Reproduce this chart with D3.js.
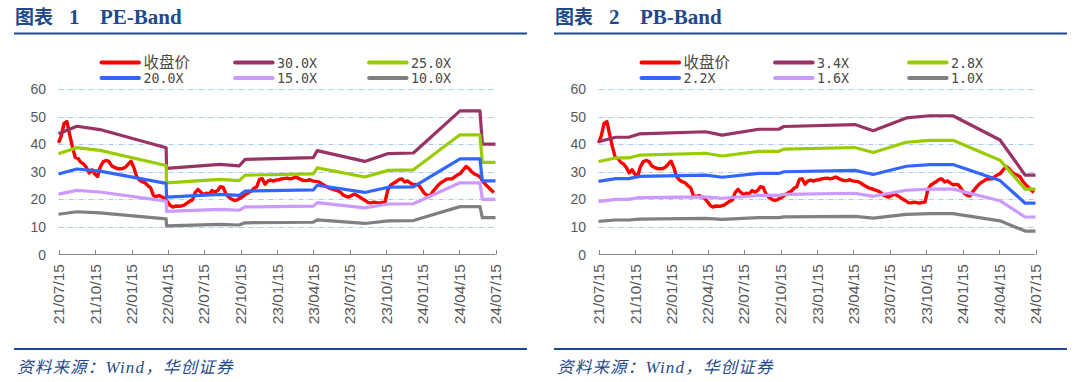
<!DOCTYPE html>
<html><head><meta charset="utf-8">
<script src="https://cdn.jsdelivr.net/npm/d3@7"></script>
<style>body{margin:0;background:#fff;} svg{display:block;}</style>
</head><body>
<svg id="chart" width="1080" height="382"></svg>
<script>
// ---------- data ----------
const xTickLabels = ["21/07/15","21/10/15","22/01/15","22/04/15","22/07/15","22/10/15","23/01/15","23/04/15","23/07/15","23/10/15","24/01/15","24/04/15","24/07/15"];
const yTickValues = [0,10,20,30,40,50,60];

// closing price, one value per week starting 2021-07-15
const priceStartDate = "2021-07-15";
const priceWeekly = [
  40.5,43,47.5,48.2,43.5,39,35.2,34.8,33.4,32.8,
  31.5,29.6,30.7,29.2,28.3,31.8,33.6,34.1,33.8,32.2,
  31.6,31.2,31.1,31.2,31.7,32.8,33.8,31.5,28.2,27,
  26.4,26,25,24.2,21.4,21,21.4,20.9,20.4,19.2,
  17.8,17.2,17.6,17.5,17.6,17.9,18.6,19.3,19.8,22.5,
  23.6,22.5,21.7,22.2,22,23.2,22.6,23.2,24.6,24.3,
  22,20.8,20.1,19.6,19.8,20.4,21,21.8,22.4,22.9,
  24,24.5,27.2,27.5,25.5,26.6,27,26.6,27,27.1,
  27.4,27.6,27.7,27.4,27.7,28.1,27.6,27.1,26.8,26.8,
  27.1,26.7,26.5,26.4,25.9,25.2,24.6,24.1,23.8,23.4,
  23.1,22.6,21.6,21.1,20.8,21.4,21.9,21.4,20.8,20.1,
  19.5,18.8,18.7,19,18.8,18.6,18.9,19,23.5,25.1,
  25.8,26.4,27.2,27.4,26.3,26.7,26,25.3,25.4,25.2,
  23.8,22.3,21.5,21.2,22.6,23.9,25.1,26,26.6,27.3,
  27.4,27.4,28.2,28.9,29.4,30.7,31.9,31.2,30,29.2,
  28.8,28.2,26.5,25.4,24.4,23.4,22.5
];

// PE band vertices
const peBandDates = ["2021-07-15","2021-08-30","2021-10-27","2022-04-11","2022-04-12","2022-08-24","2022-10-11","2022-10-26","2023-04-15","2023-04-25","2023-08-22","2023-10-20","2023-12-22","2024-04-17","2024-06-06","2024-06-12","2024-07-15"];
const pe30 = [43.8,46.5,45.3,38.7,31.2,32.7,32.1,34.5,35.1,37.65,33.75,36.6,36.8,52.05,52.05,40.05,40.05];
const pe25 = [36.5,38.75,37.75,32.25,26.0,27.25,26.75,28.75,29.25,31.4,28.1,30.5,30.7,43.4,43.4,33.4,33.4];
const pe20 = [29.2,31.0,30.2,25.8,20.8,21.8,21.4,23.0,23.4,25.1,22.5,24.4,24.5,34.7,34.7,26.7,26.7];
const pe15 = [21.9,23.25,22.65,19.35,15.6,16.35,16.05,17.25,17.55,18.8,16.9,18.3,18.4,26.0,26.0,20.0,20.0];
const pe10 = [14.6,15.5,15.1,12.9,10.4,10.9,10.7,11.5,11.7,12.55,11.25,12.2,12.3,17.35,17.35,13.35,13.35];

// PB band vertices
const pbBandDates = ["2021-07-15","2021-08-27","2021-09-29","2021-10-25","2022-04-10","2022-05-21","2022-08-21","2022-10-10","2022-10-23","2023-04-19","2023-06-04","2023-08-26","2023-10-24","2023-12-21","2024-04-17","2024-06-19","2024-07-15"];
const pb34 = [40.9,42.5,42.5,43.7,44.5,43.3,45.4,45.4,46.4,47.1,44.9,49.5,50.3,50.3,41.5,28.8,28.8];
const pb28 = [33.7,35.0,35.0,36.0,36.7,35.7,37.4,37.4,38.2,38.8,37.0,40.7,41.4,41.4,34.2,23.7,23.7];
const pb22 = [26.5,27.5,27.5,28.3,28.8,28.0,29.4,29.4,30.0,30.5,29.0,32.0,32.6,32.6,26.8,18.6,18.6];
const pb16 = [19.2,20.0,20.0,20.6,20.9,20.4,21.4,21.4,21.8,22.2,21.1,23.3,23.7,23.7,19.5,13.6,13.6];
const pb10 = [12.0,12.5,12.5,12.85,13.1,12.7,13.35,13.35,13.65,13.85,13.2,14.55,14.8,14.8,12.2,8.5,8.5];

const peLegend = ["收盘价","30.0X","25.0X","20.0X","15.0X","10.0X"];
const pbLegend = ["收盘价","3.4X","2.8X","2.2X","1.6X","1.0X"];
const seriesColors = ["#FF0000","#993366","#99CC00","#3366FF","#CC99FF","#808080"];

// ---------- drawing ----------
const svg = d3.select("#chart");
svg.append("rect").attr("width",1080).attr("height",382).attr("fill","#fff");

const parseISO = d3.timeParse("%Y-%m-%d");
const parseTick = d3.timeParse("%y/%m/%d");
const startDate = parseISO(priceStartDate);
const priceData = priceWeekly.map((v,i)=>({date: d3.timeDay.offset(startDate, 7*i), value: v}));

const navy = "#1F4A8A";
const cjk = "'Noto Sans CJK SC', sans-serif";

function drawPanel(ox, num, name, legendLabels, bandDates, bands) {
  const g = svg.append("g").attr("transform", `translate(${ox},0)`);

  // title
  g.append("text").attr("x", 15).attr("y", 24).attr("fill", navy)
    .attr("font-family", cjk).attr("font-weight", "bold").attr("font-size", 19).text("图表");
  g.append("text").attr("x", 69).attr("y", 23.5).attr("fill", navy)
    .attr("font-family", "'Liberation Serif', serif").attr("font-weight", "bold").attr("font-size", 21).text(num);
  g.append("text").attr("x", 100).attr("y", 23.5).attr("fill", navy)
    .attr("font-family", "'Liberation Serif', serif").attr("font-weight", "bold").attr("font-size", 21).text(name);
  g.append("line").attr("x1", 14).attr("x2", 527).attr("y1", 33.5).attr("y2", 33.5)
    .attr("stroke", navy).attr("stroke-width", 2);

  // scales
  const x = d3.scaleTime().domain([parseTick(xTickLabels[0]), parseTick(xTickLabels[xTickLabels.length-1])]).range([58.5, 495.5]);
  const y = d3.scaleLinear().domain([0, 60]).range([254.5, 89]);

  // grid
  g.append("g").selectAll("line").data(yTickValues.filter(v => v > 0)).join("line")
    .attr("x1", 58.5).attr("x2", 495.5)
    .attr("y1", d => Math.round(y(d)) + 0.5).attr("y2", d => Math.round(y(d)) + 0.5)
    .attr("stroke", "#A9C9EE").attr("stroke-width", 1).attr("stroke-dasharray", "5,2,1,2");

  // y labels
  g.append("g").selectAll("text").data(yTickValues).join("text")
    .attr("x", 46).attr("y", d => y(d)).attr("dy", "0.36em").attr("text-anchor", "end")
    .attr("font-family", "'Liberation Sans', Arial, sans-serif").attr("font-size", 14).attr("fill", "#595959")
    .text(d => d);

  // x axis
  const xa = g.append("g");
  xa.append("line").attr("x1", 58.5).attr("x2", 495.5).attr("y1", 254.5).attr("y2", 254.5)
    .attr("stroke", "#868686").attr("stroke-width", 1);
  const tickDates = xTickLabels.map(parseTick);
  xa.selectAll("line.tk").data(tickDates).join("line").attr("class", "tk")
    .attr("x1", d => Math.round(x(d)) + 0.5).attr("x2", d => Math.round(x(d)) + 0.5)
    .attr("y1", 254.5).attr("y2", 250)
    .attr("stroke", "#868686").attr("stroke-width", 1);
  xa.selectAll("text").data(xTickLabels).join("text")
    .attr("transform", d => `translate(${x(parseTick(d))},264) rotate(-90)`)
    .attr("dy", "0.35em").attr("text-anchor", "end")
    .attr("font-family", "'Liberation Sans', Arial, sans-serif").attr("font-size", 15.5).attr("fill", "#595959")
    .text(d => d);

  // series
  const line = d3.line().x(d => x(d.date)).y(d => y(d.value));
  g.append("path").datum(priceData).attr("d", line)
    .attr("fill", "none").attr("stroke", seriesColors[0]).attr("stroke-width", 3.4)
    .attr("stroke-linejoin", "round");
  const bd = bandDates.map(parseISO);
  bands.forEach((arr, k) => {
    const pts = arr.map((v, i) => ({date: bd[i], value: v}));
    g.append("path").datum(pts).attr("d", line)
      .attr("fill", "none").attr("stroke", seriesColors[k+1]).attr("stroke-width", 3.2)
      .attr("stroke-linejoin", "round");
  });

  // legend
  const cols = [100, 233.6, 367.6], rows = [62.5, 78];
  legendLabels.forEach((lab, i) => {
    const cx = cols[i % 3], cy = rows[Math.floor(i / 3)];
    g.append("line").attr("x1", cx + 1.5).attr("x2", cx + 39).attr("y1", cy).attr("y2", cy)
      .attr("stroke", seriesColors[i]).attr("stroke-width", 4).attr("stroke-linecap", "round");
    const isCJK = /[\u4e00-\u9fff]/.test(lab);
    g.append("text").attr("x", cx + 43.5).attr("y", cy).attr("dy", isCJK ? "0.36em" : "0.38em")
      .attr("font-family", isCJK ? cjk : "'DejaVu Sans Mono', monospace")
      .attr("font-size", isCJK ? 15.5 : 13.3).attr("fill", "#4a4a4a").text(lab);
  });

  // footer
  g.append("line").attr("x1", 14).attr("x2", 527).attr("y1", 349).attr("y2", 349)
    .attr("stroke", navy).attr("stroke-width", 2);
  const ft = g.append("text").attr("x", 17).attr("y", 373).attr("fill", navy)
    .attr("font-size", 16.5).attr("font-style", "italic").attr("font-family", cjk)
    .attr("letter-spacing", 1.2);
  ft.append("tspan").text("资料来源：");
  ft.append("tspan").attr("font-family", "'Liberation Serif', serif").attr("font-size", 17).text("Wind");
  ft.append("tspan").text("，华创证券");
}

drawPanel(0, "1", "PE-Band", peLegend, peBandDates, [pe30, pe25, pe20, pe15, pe10]);
drawPanel(540, "2", "PB-Band", pbLegend, pbBandDates, [pb34, pb28, pb22, pb16, pb10]);
</script>
</body></html>
